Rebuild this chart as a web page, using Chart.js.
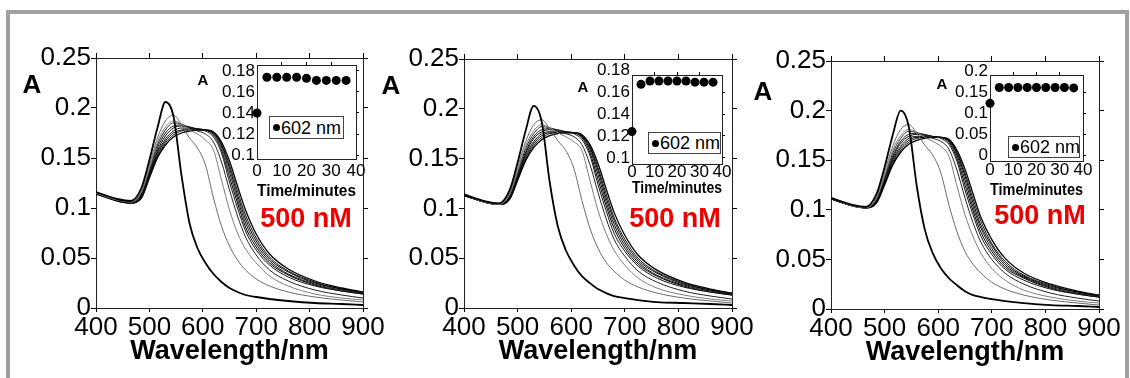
<!DOCTYPE html>
<html>
<head>
<meta charset="utf-8">
<script src="https://cdn.jsdelivr.net/npm/chart.js@4.4.0/dist/chart.umd.min.js"></script>
<style>
html, body { margin: 0; padding: 0; background: #fff; overflow: hidden; }
body { width: 1130px; height: 378px; position: relative; font-family: "Liberation Sans", Arial, sans-serif; }
#frame { position: absolute; left: 6px; top: 10px; width: 1115px; height: 420px; border: 4px solid #a0a0a0; border-bottom: none; }
canvas { position: absolute; }
.lbl { position: absolute; transform: translate(-50%, -50%); line-height: 1; font-weight: bold; white-space: nowrap; color: #000; }
.big { font-size: 26px; }
.small { font-size: 15px; }
.conc { font-size: 27px; color: #ee0000; }
.leg { position: absolute; box-sizing: border-box; border: 1px solid #444; background: #fff; font-size: 18px; line-height: 1; }
.leg .dot { position: absolute; left: 3px; top: 50%; width: 7px; height: 7px; margin-top: -3.5px; border-radius: 50%; background: #000; }
.leg .txt { position: absolute; left: 11px; top: 50%; transform: translateY(-50%); white-space: nowrap; }
</style>
</head>
<body>
<div id="frame"></div>
<script>
const FONT = '"Liberation Sans", Arial, sans-serif';

// spectra, one row per time point (0, 4, ... 36 min)
const WAVELENGTH = [400, 440, 465, 485, 500, 515, 530, 545, 560, 575, 590, 605, 620, 635, 650, 665, 680, 700, 725, 760, 810, 860, 900];

const SPECTRA_1 = [
  [0.116,0.109,0.107,0.120,0.148,0.180,0.206,0.192,0.133,0.085,0.060,0.045,0.034,0.026,0.020,0.016,0.013,0.011,0.009,0.007,0.005,0.004,0.003],
  [0.115,0.108,0.106,0.117,0.143,0.170,0.187,0.193,0.183,0.170,0.160,0.143,0.110,0.082,0.062,0.048,0.038,0.029,0.022,0.016,0.011,0.008,0.006],
  [0.115,0.108,0.106,0.116,0.140,0.166,0.181,0.187,0.184,0.178,0.174,0.168,0.158,0.128,0.098,0.075,0.059,0.045,0.032,0.022,0.014,0.010,0.008],
  [0.115,0.108,0.106,0.115,0.138,0.163,0.178,0.185,0.184,0.180,0.177,0.174,0.166,0.146,0.118,0.092,0.071,0.053,0.038,0.027,0.018,0.013,0.010],
  [0.115,0.108,0.106,0.114,0.136,0.160,0.175,0.182,0.183,0.181,0.179,0.177,0.171,0.155,0.126,0.100,0.077,0.058,0.043,0.031,0.022,0.017,0.014],
  [0.115,0.108,0.106,0.113,0.134,0.157,0.172,0.180,0.182,0.181,0.179,0.178,0.173,0.158,0.131,0.105,0.081,0.061,0.045,0.033,0.023,0.017,0.014],
  [0.115,0.108,0.105,0.112,0.133,0.155,0.169,0.177,0.180,0.180,0.179,0.178,0.174,0.161,0.136,0.109,0.085,0.064,0.047,0.034,0.024,0.018,0.015],
  [0.115,0.107,0.105,0.111,0.132,0.153,0.167,0.175,0.178,0.179,0.179,0.178,0.175,0.163,0.140,0.113,0.089,0.067,0.049,0.036,0.025,0.019,0.015],
  [0.114,0.107,0.105,0.110,0.131,0.151,0.165,0.173,0.177,0.178,0.178,0.178,0.175,0.164,0.143,0.117,0.093,0.070,0.051,0.037,0.026,0.019,0.016],
  [0.114,0.107,0.105,0.110,0.130,0.150,0.163,0.171,0.175,0.177,0.178,0.178,0.176,0.166,0.147,0.122,0.098,0.074,0.054,0.039,0.027,0.020,0.016]
];

const SPECTRA_2 = [
  [0.114,0.107,0.105,0.118,0.146,0.178,0.203,0.187,0.126,0.082,0.058,0.043,0.032,0.025,0.019,0.015,0.012,0.010,0.008,0.006,0.005,0.004,0.003],
  [0.114,0.106,0.104,0.115,0.141,0.167,0.184,0.189,0.180,0.168,0.158,0.140,0.108,0.080,0.060,0.046,0.037,0.028,0.021,0.015,0.010,0.007,0.005],
  [0.114,0.106,0.104,0.114,0.138,0.163,0.178,0.184,0.181,0.176,0.172,0.167,0.158,0.128,0.098,0.075,0.058,0.043,0.030,0.020,0.013,0.009,0.007],
  [0.114,0.106,0.104,0.113,0.136,0.160,0.175,0.182,0.181,0.178,0.175,0.172,0.164,0.144,0.116,0.090,0.069,0.052,0.037,0.026,0.017,0.012,0.009],
  [0.114,0.106,0.104,0.112,0.134,0.157,0.172,0.179,0.180,0.179,0.177,0.175,0.169,0.153,0.124,0.098,0.075,0.057,0.042,0.030,0.021,0.016,0.013],
  [0.114,0.106,0.104,0.111,0.132,0.155,0.170,0.177,0.179,0.178,0.177,0.176,0.171,0.156,0.129,0.103,0.080,0.060,0.044,0.032,0.022,0.016,0.013],
  [0.114,0.106,0.104,0.111,0.131,0.153,0.167,0.175,0.177,0.177,0.176,0.176,0.172,0.159,0.134,0.107,0.084,0.063,0.046,0.033,0.023,0.017,0.014],
  [0.113,0.106,0.104,0.110,0.130,0.151,0.165,0.173,0.176,0.176,0.176,0.176,0.173,0.161,0.138,0.111,0.088,0.066,0.048,0.035,0.024,0.018,0.014],
  [0.113,0.106,0.104,0.109,0.129,0.149,0.163,0.171,0.175,0.176,0.176,0.176,0.173,0.162,0.141,0.115,0.091,0.069,0.050,0.036,0.025,0.018,0.015],
  [0.113,0.106,0.104,0.109,0.128,0.148,0.161,0.169,0.173,0.175,0.176,0.176,0.174,0.164,0.145,0.120,0.096,0.073,0.053,0.038,0.026,0.019,0.015]
];

const SPECTRA_3 = [
  [0.112,0.105,0.103,0.116,0.143,0.175,0.200,0.184,0.124,0.080,0.056,0.041,0.031,0.024,0.018,0.014,0.012,0.010,0.008,0.006,0.004,0.003,0.002],
  [0.112,0.104,0.102,0.113,0.138,0.164,0.181,0.186,0.177,0.165,0.155,0.137,0.105,0.078,0.058,0.045,0.036,0.027,0.020,0.014,0.009,0.006,0.004],
  [0.112,0.104,0.102,0.112,0.135,0.160,0.175,0.181,0.178,0.173,0.169,0.164,0.154,0.124,0.095,0.073,0.056,0.041,0.029,0.019,0.012,0.008,0.006],
  [0.112,0.104,0.102,0.111,0.133,0.157,0.172,0.179,0.178,0.175,0.172,0.169,0.161,0.140,0.112,0.087,0.067,0.050,0.036,0.025,0.016,0.011,0.008],
  [0.112,0.104,0.102,0.110,0.131,0.154,0.169,0.176,0.177,0.176,0.174,0.172,0.166,0.149,0.120,0.095,0.073,0.055,0.040,0.029,0.020,0.015,0.012],
  [0.112,0.104,0.102,0.109,0.129,0.152,0.167,0.174,0.176,0.175,0.174,0.173,0.168,0.152,0.125,0.099,0.077,0.058,0.042,0.031,0.021,0.015,0.012],
  [0.111,0.104,0.102,0.109,0.128,0.150,0.164,0.172,0.174,0.174,0.173,0.173,0.169,0.155,0.130,0.103,0.081,0.061,0.044,0.032,0.022,0.016,0.013],
  [0.111,0.104,0.102,0.108,0.127,0.148,0.162,0.170,0.173,0.173,0.173,0.173,0.170,0.157,0.134,0.107,0.084,0.064,0.046,0.033,0.023,0.017,0.013],
  [0.111,0.104,0.102,0.107,0.126,0.146,0.160,0.168,0.172,0.173,0.173,0.173,0.170,0.158,0.137,0.111,0.088,0.066,0.048,0.034,0.024,0.017,0.014],
  [0.111,0.104,0.102,0.107,0.125,0.145,0.158,0.166,0.170,0.172,0.173,0.173,0.171,0.160,0.141,0.116,0.092,0.070,0.051,0.036,0.025,0.018,0.014]
];

// inset: absorbance at 602 nm vs time
const TIME_MIN = [0, 4, 8, 12, 16, 20, 24, 28, 32, 36];
const A602_1 = [0.140, 0.174, 0.174, 0.174, 0.174, 0.173, 0.171, 0.171, 0.171, 0.171];
const A602_2 = [0.124, 0.167, 0.170, 0.170, 0.170, 0.170, 0.170, 0.169, 0.169, 0.169];
const A602_3 = [0.124, 0.162, 0.162, 0.162, 0.162, 0.162, 0.162, 0.162, 0.162, 0.161];

const X_TICKS = [400, 500, 600, 700, 800, 900];
const Y_TICKS = [0, 0.05, 0.1, 0.15, 0.2, 0.25];
const INSET_X_TICKS = [0, 10, 20, 30, 40];
const INSET_Y_TICKS_A = [0.1, 0.12, 0.14, 0.16, 0.18];
const INSET_Y_TICKS_B = [0, 0.05, 0.1, 0.15, 0.2];

const LINE_COLORS = ['#000', '#6a6a6a', '#7c7c7c', '#222', '#111', '#000', '#111', '#000', '#111', '#000'];
const LINE_WIDTHS = [1.8, 1, 1, 1, 1, 1, 1, 1, 1, 1.3];

function fixedTicks(values, lo, hi) {
  return (axis) => {
    const vals = (lo === undefined) ? values : values.filter(v => v >= lo - 1e-9 && v <= hi + 1e-9);
    axis.ticks = vals.map(v => ({ value: v }));
  };
}
function fixSize(size) {
  return (axis) => {
    if (axis.isHorizontal()) axis.height = size; else axis.width = size;
    axis.paddingLeft = 0; axis.paddingRight = 0; axis.paddingTop = 0; axis.paddingBottom = 0;
  };
}
function placeCanvas(left, top, width, height) {
  const c = document.createElement('canvas');
  c.width = width; c.height = height;
  c.style.left = left + 'px'; c.style.top = top + 'px';
  c.style.width = width + 'px'; c.style.height = height + 'px';
  document.body.appendChild(c);
  return c;
}
function addText(cls, text, x, y) {
  const d = document.createElement('div');
  d.className = 'lbl ' + cls;
  d.textContent = text;
  d.style.left = x + 'px'; d.style.top = y + 'px';
  document.body.appendChild(d);
}
function addLegend(l, t, r, b) {
  const d = document.createElement('div');
  d.className = 'leg';
  d.style.left = l + 'px'; d.style.top = t + 'px';
  d.style.width = (r - l) + 'px'; d.style.height = (b - t) + 'px';
  d.innerHTML = '<span class="dot"></span><span class="txt">602 nm</span>';
  document.body.appendChild(d);
}

function mirrorAxis(pos, min, max, ticks, len) {
  return {
    type: 'linear', position: pos, min: min, max: max,
    afterBuildTicks: fixedTicks(ticks, min, max), afterFit: fixSize(len),
    ticks: { display: false },
    grid: { drawOnChartArea: false, drawTicks: true, tickLength: len, color: '#000', lineWidth: 1 },
    border: { display: true, color: '#222', width: 1 }
  };
}

function spectrumPanel(area, spectra) {
  const pad = { left: 75, top: 30, right: 25, bottom: 62 };
  const ax = { left: 60, top: 5, right: 5, bottom: 60 };
  const canvas = placeCanvas(area.l - pad.left, area.t - pad.top,
    area.r - area.l + pad.left + pad.right, area.b - area.t + pad.top + pad.bottom);
  new Chart(canvas, {
    type: 'line',
    data: {
      datasets: spectra.map((ys, i) => ({
        data: WAVELENGTH.map((w, j) => ({ x: w, y: ys[j] })),
        borderColor: LINE_COLORS[i],
        borderWidth: LINE_WIDTHS[i],
        pointRadius: 0,
        cubicInterpolationMode: 'monotone',
        fill: false
      }))
    },
    options: {
      responsive: false, animation: false, events: [],
      layout: { autoPadding: false, padding: { left: pad.left - ax.left, top: pad.top - ax.top, right: pad.right - ax.right, bottom: pad.bottom - ax.bottom } },
      plugins: { legend: { display: false }, tooltip: { enabled: false } },
      scales: {
        x: {
          type: 'linear', position: 'bottom', min: 400, max: 900,
          afterBuildTicks: fixedTicks(X_TICKS), afterFit: fixSize(ax.bottom),
          grid: { drawOnChartArea: false, tickLength: 4, color: '#000' },
          border: { display: true, color: '#222' },
          ticks: { padding: 0, color: '#000', autoSkip: false, maxRotation: 0, minRotation: 0, font: { family: FONT, size: 26 }, callback: v => String(v) },
          title: { display: true, text: 'Wavelength/nm', color: '#000', padding: 0, font: { family: FONT, size: 27, weight: 'bold' } }
        },
        x2: mirrorAxis('top', 400, 900, X_TICKS, ax.top),
        y: {
          type: 'linear', position: 'left', min: 0, max: 0.25,
          afterBuildTicks: fixedTicks(Y_TICKS), afterFit: fixSize(ax.left),
          grid: { drawOnChartArea: false, tickLength: 5, color: '#000' },
          border: { display: true, color: '#222' },
          ticks: { padding: 0, color: '#000', autoSkip: false, font: { family: FONT, size: 26 }, callback: v => String(v) }
        },
        y2: mirrorAxis('right', 0, 0.25, Y_TICKS, ax.right)
      }
    }
  });
}

function insetPanel(g, values, yTicks) {
  const pad = { left: 40, top: 12, right: 12, bottom: 45 };
  const bottomH = g.titleY + 8.5 - g.b;
  const ax = { left: 36, top: 3, right: 3, bottom: bottomH };
  const canvas = placeCanvas(g.l - pad.left, g.t - pad.top,
    g.r - g.l + pad.left + pad.right, g.b - g.t + pad.top + pad.bottom);
  new Chart(canvas, {
    type: 'scatter',
    data: {
      datasets: [{
        data: TIME_MIN.map((t, i) => ({ x: t, y: values[i] })),
        backgroundColor: '#000', borderColor: '#000', pointRadius: 4.5, borderWidth: 0, clip: false
      }]
    },
    options: {
      responsive: false, animation: false, events: [],
      layout: { autoPadding: false, padding: { left: pad.left - ax.left, top: pad.top - ax.top, right: pad.right - ax.right, bottom: pad.bottom - ax.bottom } },
      plugins: { legend: { display: false }, tooltip: { enabled: false } },
      scales: {
        x: {
          type: 'linear', position: 'bottom', min: 0, max: 40,
          afterBuildTicks: fixedTicks(INSET_X_TICKS), afterFit: fixSize(ax.bottom),
          grid: { display: false, drawTicks: false },
          border: { display: true, color: '#222' },
          ticks: { padding: g.lp, color: '#000', autoSkip: false, maxRotation: 0, minRotation: 0, font: { family: FONT, size: 17, lineHeight: 1 }, callback: v => String(v) },
          title: { display: true, text: 'Time/minutes', color: '#000', padding: 0, font: { family: FONT, size: 17, weight: 'bold', lineHeight: 1 } }
        },
        x2: mirrorAxis('top', 0, 40, [10, 20, 30], ax.top),
        y: {
          type: 'linear', position: 'left', min: g.ymin, max: g.ymax,
          afterBuildTicks: fixedTicks(yTicks), afterFit: fixSize(ax.left),
          grid: { display: false, drawTicks: false },
          border: { display: true, color: '#222' },
          ticks: { padding: 2, color: '#000', autoSkip: false, font: { family: FONT, size: 17, lineHeight: 1 }, callback: v => String(v) }
        },
        y2: mirrorAxis('right', g.ymin, g.ymax, yTicks, ax.right)
      }
    }
  });
}

spectrumPanel({ l: 96, t: 58, r: 363, b: 308 }, SPECTRA_1);
spectrumPanel({ l: 464, t: 59, r: 732, b: 308 }, SPECTRA_2);
spectrumPanel({ l: 831, t: 61, r: 1099, b: 309 }, SPECTRA_3);

insetPanel({ l: 257, t: 65, r: 356, b: 159, ymin: 0.0962, ymax: 0.1857, lp: 4, titleY: 191 }, A602_1, INSET_Y_TICKS_A);
insetPanel({ l: 632, t: 75, r: 722, b: 164, ymin: 0.0945, ymax: 0.1755, lp: 0, titleY: 188 }, A602_2, INSET_Y_TICKS_A);
insetPanel({ l: 990, t: 75, r: 1083, b: 161, ymin: -0.0144, ymax: 0.192, lp: 0.5, titleY: 190 }, A602_3, INSET_Y_TICKS_B);

addText('big', 'A', 32, 84);
addText('big', 'A', 391, 85);
addText('big', 'A', 763, 91);
addText('small', 'A', 203, 79);
addText('small', 'A', 583, 86);
addText('small', 'A', 942, 83);
addText('conc', '500 nM', 306, 218);
addText('conc', '500 nM', 675, 218);
addText('conc', '500 nM', 1040, 215);

addLegend(269, 116, 344, 139);
addLegend(648, 132, 721, 154);
addLegend(1008, 136, 1080, 158);
</script>
</body>
</html>
